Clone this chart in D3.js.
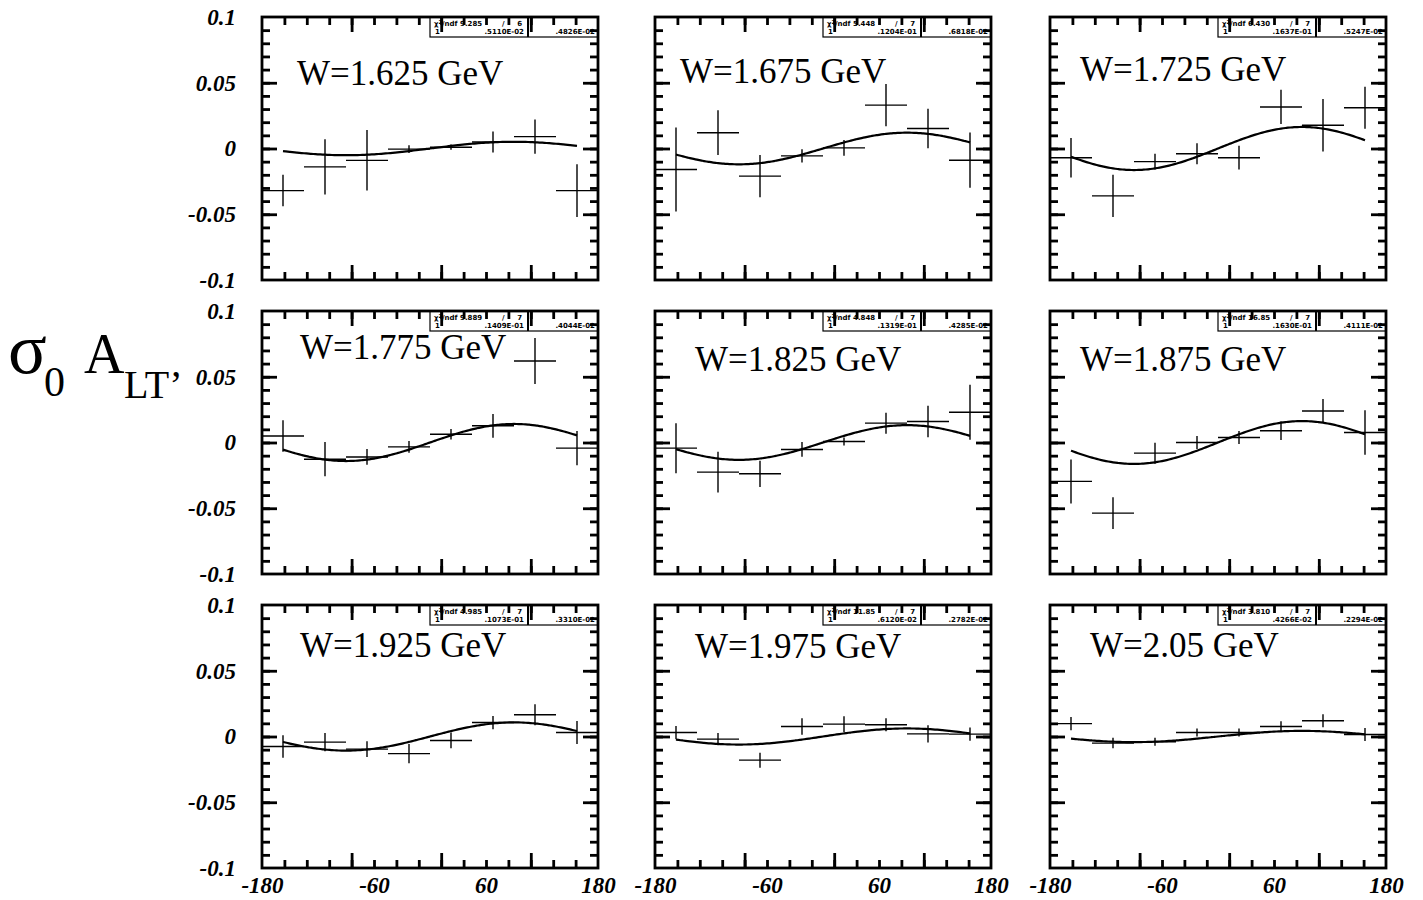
<!DOCTYPE html>
<html>
<head>
<meta charset="utf-8">
<script src="https://cdn.jsdelivr.net/npm/d3@7"></script>
<style>
	body { margin: 0; background: #fff; }
	svg { display: block; }
	.num { font-family: "Liberation Serif", "Times New Roman", serif; font-weight: bold; font-style: italic; font-size: 23px; fill: #000; }
	.wlabel { font-family: "Liberation Serif", "Times New Roman", serif; font-size: 35px; fill: #000; }
	.stat { font-family: "DejaVu Sans", sans-serif; font-size: 7px; font-weight: bold; fill: #000; }
	.ylab { font-family: "Liberation Serif", "Times New Roman", serif; fill: #000; }
</style>
</head>
<body>
<div id="chart"></div>
<script>
'use strict';

// W bins, one panel each (row by row)
var wLabels = ['W=1.625 GeV', 'W=1.675 GeV', 'W=1.725 GeV',
	'W=1.775 GeV', 'W=1.825 GeV', 'W=1.875 GeV',
	'W=1.925 GeV', 'W=1.975 GeV', 'W=2.05 GeV'];

// phi bin centres (deg) and bin half width
var phiCenters = [-157.5, -112.5, -67.5, -22.5, 22.5, 67.5, 112.5, 157.5];
var binHalf = 22.5;

// sigma0 * A_LT' per phi bin
var asym = [
	[-0.032, -0.014, -0.009, -0.0005, 0.001, 0.005, 0.009, -0.032],
	[-0.016, 0.012, -0.021, -0.0056, 0.0005, 0.033, 0.0152, -0.0089],
	[-0.007, -0.036, -0.010, -0.004, -0.007, 0.0316, 0.0177, 0.031],
	[0.005, -0.0127, -0.011, -0.0033, 0.0063, 0.0127, 0.062, -0.0043],
	[-0.0043, -0.0225, -0.0238, -0.0053, 0.0008, 0.0147, 0.016, 0.023],
	[-0.0296, -0.0537, -0.0081, 0.0, 0.0038, 0.0089, 0.024, 0.0076],
	[-0.0076, -0.0043, -0.0096, -0.013, -0.003, 0.0106, 0.0165, 0.003],
	[0.003, -0.002, -0.018, 0.0076, 0.0094, 0.0089, 0.002, 0.0018],
	[0.0098, -0.005, -0.004, 0.003, 0.003, 0.0076, 0.012, 0.0015]
];
var asymErr = [
	[0.012, 0.021, 0.023, 0.003, 0.002, 0.008, 0.013, 0.020],
	[0.032, 0.017, 0.016, 0.005, 0.006, 0.016, 0.015, 0.021],
	[0.015, 0.016, 0.006, 0.008, 0.009, 0.013, 0.020, 0.016],
	[0.012, 0.013, 0.006, 0.0045, 0.004, 0.009, 0.0175, 0.013],
	[0.019, 0.0155, 0.010, 0.0056, 0.003, 0.008, 0.012, 0.021],
	[0.0167, 0.012, 0.008, 0.005, 0.005, 0.007, 0.009, 0.017],
	[0.0085, 0.007, 0.006, 0.0073, 0.006, 0.005, 0.008, 0.0087],
	[0.005, 0.0047, 0.0057, 0.0063, 0.006, 0.005, 0.0066, 0.005],
	[0.005, 0.004, 0.003, 0.003, 0.003, 0.004, 0.005, 0.005]
];

// fit results shown in the stats boxes (fit function p1*sin(phi))
var chi2 = ['9.285', '5.448', '6.430', '9.889', '4.848', '16.85', '4.985', '11.85', '3.810'];
var ndf = [6, 7, 7, 7, 7, 7, 7, 7, 7];
var fitP1 = [0.00511, 0.01204, 0.01637, 0.01409, 0.01319, 0.01630, 0.01073, 0.00612, 0.004266];
var fitP1Text = ['.5110E-02', '.1204E-01', '.1637E-01', '.1409E-01', '.1319E-01', '.1630E-01', '.1073E-01', '.6120E-02', '.4266E-02'];
var fitErrText = ['.4826E-02', '.6818E-02', '.5247E-02', '.4044E-02', '.4285E-02', '.4111E-02', '.3310E-02', '.2782E-02', '.2294E-02'];

// axis ticks
var yTickLabels = [0.1, 0.05, 0, -0.05, -0.1];
var xTickLabels = [-180, -60, 60, 180];
var yMinor = d3.range(-9, 10).map(function(i) { return i / 100; });
var yMajor = [-0.05, 0, 0.05];
var xMinor = d3.range(1, 15).map(function(i) { return -180 + 24 * i; });
var xMajor = [-84, 12, 108];

// layout
var colLeft = [262, 655, 1050];
var rowTop = [17, 311, 605];
var panelW = 336;
var panelH = 263;
var titleOffset = [[35, 68], [25, 66], [30, 64], [38, 48], [40, 60], [30, 60], [38, 52], [40, 53], [40, 52]];

var svg = d3.select('#chart').append('svg')
	.attr('width', 1423)
	.attr('height', 900);

// draws inward tick marks only (no domain, no labels)
function tickAxis(g, axis, values, size) {
	g.call(axis.tickValues(values).tickSizeInner(size).tickSizeOuter(0).tickFormat(''));
	g.select('.domain').remove();
	g.selectAll('.tick line')
		.attr('stroke', '#000')
		.attr('stroke-width', 2.8);
}

wLabels.forEach(function(label, p) {
	var row = Math.floor(p / 3);
	var col = p % 3;
	var left = colLeft[col];
	var top = rowTop[row];
	var right = left + panelW;
	var bottom = top + panelH;

	var x = d3.scaleLinear().domain([-180, 180]).range([left, right]);
	var y = d3.scaleLinear().domain([-0.1, 0.1]).range([bottom, top]);

	var panel = svg.append('g').attr('class', 'panel');

	// inward ticks on all four sides
	var sides = [
		{make: function() { return d3.axisBottom(x); }, at: 'translate(0,' + bottom + ')', minor: xMinor, major: xMajor},
		{make: function() { return d3.axisTop(x); }, at: 'translate(0,' + top + ')', minor: xMinor, major: xMajor},
		{make: function() { return d3.axisLeft(y); }, at: 'translate(' + left + ',0)', minor: yMinor, major: yMajor},
		{make: function() { return d3.axisRight(y); }, at: 'translate(' + right + ',0)', minor: yMinor, major: yMajor}
	];
	sides.forEach(function(s) {
		tickAxis(panel.append('g').attr('transform', s.at), s.make(), s.minor, -8);
		tickAxis(panel.append('g').attr('transform', s.at), s.make(), s.major, -15);
	});

	// frame
	panel.append('rect')
		.attr('x', left)
		.attr('y', top)
		.attr('width', panelW)
		.attr('height', panelH)
		.attr('fill', 'none')
		.attr('stroke', '#000')
		.attr('stroke-width', 2.8);

	// stats box
	var box = panel.append('g');
	box.append('rect')
		.attr('x', right - 168)
		.attr('y', top)
		.attr('width', 168)
		.attr('height', 20)
		.attr('fill', 'none')
		.attr('stroke', '#000')
		.attr('stroke-width', 1.2);
	box.append('line')
		.attr('x1', right - 70).attr('x2', right - 70)
		.attr('y1', top).attr('y2', top + 20)
		.attr('stroke', '#000')
		.attr('stroke-width', 2);
	var l1 = box.append('text')
		.attr('class', 'stat')
		.attr('x', right - 164)
		.attr('y', top + 8.5);
	l1.append('tspan').text('χ');
	l1.append('tspan').attr('dy', -2).attr('font-size', 5).text('2');
	l1.append('tspan').attr('dy', 2).text('/ndf ' + chi2[p]);
	box.append('text')
		.attr('class', 'stat')
		.attr('x', right - 96)
		.attr('y', top + 8.5)
		.text('/');
	box.append('text')
		.attr('class', 'stat')
		.attr('x', right - 76)
		.attr('y', top + 8.5)
		.attr('text-anchor', 'end')
		.text(ndf[p]);
	box.append('text')
		.attr('class', 'stat')
		.attr('x', right - 163)
		.attr('y', top + 17)
		.text('1');
	box.append('text')
		.attr('class', 'stat')
		.attr('x', right - 74)
		.attr('y', top + 17)
		.attr('text-anchor', 'end')
		.text(fitP1Text[p]);
	box.append('text')
		.attr('class', 'stat')
		.attr('x', right - 3)
		.attr('y', top + 17)
		.attr('text-anchor', 'end')
		.text(fitErrText[p]);

	// W label
	panel.append('text')
		.attr('class', 'wlabel')
		.attr('x', left + titleOffset[p][0])
		.attr('y', top + titleOffset[p][1])
		.text(label);

	// fit curve, drawn over the bin centre range
	var fitPhi = d3.range(phiCenters[0], phiCenters[phiCenters.length - 1] + 0.01, 2.5);
	var line = d3.line()
		.x(function(d) { return x(d); })
		.y(function(d) { return y(fitP1[p] * Math.sin(d * Math.PI / 180)); })
		.curve(d3.curveMonotoneX);
	panel.append('path')
		.datum(fitPhi)
		.attr('d', line)
		.attr('fill', 'none')
		.attr('stroke', '#000')
		.attr('stroke-width', 2.2);

	// data points with bin width and error bars
	var pts = panel.append('g')
		.selectAll('g')
		.data(phiCenters.map(function(phi, i) {
			return {phi: phi, v: asym[p][i], e: asymErr[p][i]};
		}))
		.enter().append('g');
	pts.append('line')
		.attr('x1', function(d) { return x(d.phi - binHalf); })
		.attr('x2', function(d) { return x(d.phi + binHalf); })
		.attr('y1', function(d) { return y(d.v); })
		.attr('y2', function(d) { return y(d.v); })
		.attr('stroke', '#000')
		.attr('stroke-width', 1.4);
	pts.append('line')
		.attr('x1', function(d) { return x(d.phi); })
		.attr('x2', function(d) { return x(d.phi); })
		.attr('y1', function(d) { return y(d.v - d.e); })
		.attr('y2', function(d) { return y(d.v + d.e); })
		.attr('stroke', '#000')
		.attr('stroke-width', 1.4);

	// y labels on the left column only
	if (col === 0) {
		var gy = panel.append('g')
			.attr('transform', 'translate(' + left + ',0)')
			.call(d3.axisLeft(y).tickValues(yTickLabels).tickSize(0).tickPadding(26)
				.tickFormat(function(d) { return String(d); }));
		gy.select('.domain').remove();
		gy.selectAll('text').attr('class', 'num');
	}
	// x labels on the bottom row only
	if (row === 2) {
		var gx = panel.append('g')
			.attr('transform', 'translate(0,' + bottom + ')')
			.call(d3.axisBottom(x).tickValues(xTickLabels).tickSize(0).tickPadding(9)
				.tickFormat(function(d) { return String(d); }));
		gx.select('.domain').remove();
		gx.selectAll('text').attr('class', 'num');
	}
});

// y axis title: sigma_0 A_LT'
var ylab = svg.append('g').attr('class', 'ylab');
ylab.append('text').attr('x', 8).attr('y', 373).attr('font-size', 72).text('σ');
ylab.append('text').attr('x', 44).attr('y', 396).attr('font-size', 42).text('0');
ylab.append('text').attr('x', 84).attr('y', 373).attr('font-size', 56).text('A');
ylab.append('text').attr('x', 124).attr('y', 398).attr('font-size', 40).text('LT’');
</script>
</body>
</html>
